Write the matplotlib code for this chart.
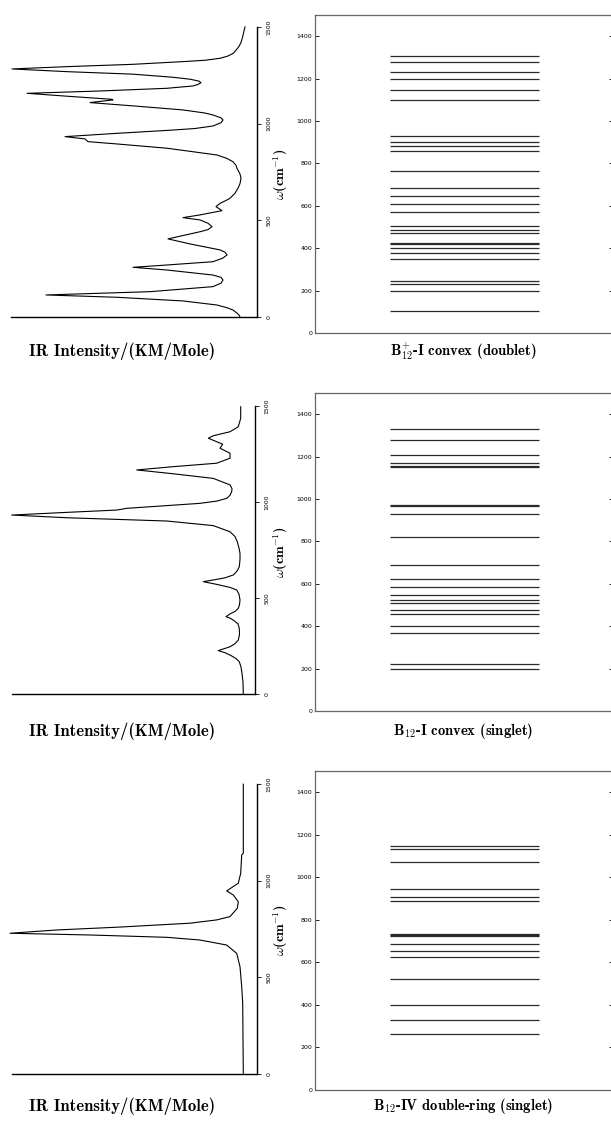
import matplotlib
matplotlib.use("Agg")
import matplotlib.pyplot as plt

plt.rcParams['mathtext.fontset'] = 'cm'

# IR spectra (frequency in cm^-1, intensity in arbitrary units)
freq1 = [1500, 1480, 1450, 1420, 1400, 1380, 1364, 1350, 1338, 1328, 1321, 1307, 1295,
         1283, 1269, 1256, 1240, 1230, 1220, 1212, 1203, 1195, 1183, 1169, 1157, 1142,
         1126, 1123, 1109, 1092, 1071, 1055, 1045, 1030, 1019, 1005, 988, 975, 967, 950,
         933, 921, 907, 895, 873, 838, 820, 803, 785, 769, 740, 718, 690, 666, 640, 614,
         600, 588, 571, 550, 528, 514, 502, 485, 467, 452, 441, 404, 378, 347, 335, 321,
         305, 286, 269, 257, 243, 217, 205, 191, 175, 157, 131, 114, 102, 83, 62, 48, 36,
         20, 10, 0]
ir1 = [0, 1, 2.3, 4, 6, 9, 11.7, 17, 25, 40, 61.7, 112, 178,
       233, 178, 112, 72, 55, 46, 44, 47, 52, 78, 145, 218, 178,
       133, 132, 155, 112, 62, 40, 32, 24, 22, 24, 32, 50, 72, 128,
       180, 160, 157, 128, 78, 28, 18, 12, 9, 8, 5, 4, 5, 7, 10, 15,
       20, 25, 29, 23, 45, 62, 45, 37, 33, 37, 45, 77, 55, 25, 20, 18,
       22, 32, 78, 112, 78, 32, 24, 22, 24, 32, 95, 199, 128, 62, 28, 18, 12,
       8, 6, 5]

freq2 = [1496, 1436, 1392, 1366, 1345, 1332, 1314, 1301, 1280, 1254, 1228, 1202, 1184,
         1167, 1147, 1123, 1089, 1070, 1054, 1035, 1019, 1005, 993, 967, 958, 946, 932,
         918, 901, 877, 845, 820, 793, 760, 733, 700, 663, 640, 620, 605, 597, 585, 571,
         555, 542, 520, 490, 465, 446, 430, 417, 403, 395, 385, 365, 342, 310, 281, 262,
         246, 226, 215, 203, 185, 168, 140, 108, 60, 7, 0]
ir2 = [4.3, 4.3, 6.7, 15, 31.7, 36.7, 28.3, 22.3, 25, 15, 15, 28.3, 71.7,
       108.3, 71.7, 31.7, 15, 13, 13.3, 15, 18.3, 28, 45, 118.3, 128.3, 178.3, 233.3,
       178.3, 78.3, 31.7, 15, 10, 7.7, 6, 5, 5, 5.7, 8, 11.7, 20, 28.3, 41.7, 28.3,
       15, 8.3, 6, 5, 5.5, 6.7, 10, 15, 19, 15, 11.7, 7, 5.7, 5.5, 6.7, 10,
       15, 26.7, 20, 15, 9, 5.7, 4, 3, 2, 1.7, 1.7]

freq3 = [1499, 1142, 1133, 1038, 987, 947, 926, 891, 857, 814, 797, 780, 760, 745, 728,
         719, 707, 693, 667, 624, 555, 452, 366, 4]
ir3 = [1.7, 1.7, 3.3, 4.3, 6.7, 18.3, 11.7, 6.7, 7.7, 15, 28.3, 55, 125, 188, 235,
       155, 78.3, 45, 18.3, 8.3, 5, 3.3, 2.3, 1.7]

# vibrational levels (cm^-1)
levels1 = [1306, 1279, 1233, 1197, 1148, 1101, 931, 901, 882, 860, 763, 684, 647,
           609, 573, 507, 484, 474, 426, 418, 400, 378, 348, 245, 230, 198, 104]
levels2 = [1328, 1276, 1208, 1168, 1158, 1150, 970, 965, 927, 819, 690, 621, 585,
           548, 525, 508, 476, 456, 402, 366, 220, 200]
levels3 = [1148, 1132, 1071, 944, 909, 887, 735, 728, 722, 687, 654, 627, 524,
           398, 329, 262]

titles = [r"B$_{12}^{+}$-I convex (doublet)",
          r"B$_{12}$-I convex (singlet)",
          r"B$_{12}$-IV double-ring (singlet)"]
ir_label = "IR Intensity/(KM/Mole)"

W, H = 611, 1121
fig = plt.figure(figsize=(W / 100, H / 100), dpi=100)


def box(l, r, t, b):
    return [l / W, 1 - b / H, (r - l) / W, (b - t) / H]


# pixel boxes: (left panel), (right panel), caption y
rows = [
    (box(11, 257, 27, 317), (234, -12), box(315, 613, 15, 333), 351),
    (box(12, 255, 406, 694), (233, -10), box(315, 613, 393, 711), 731),
    (box(12, 257, 784, 1074), (233, -12), box(315, 613, 771, 1090), 1106),
]
spectra = [(freq1, ir1), (freq2, ir2), (freq3, ir3)]
levels = [levels1, levels2, levels3]

for i, (lbox, lxlim, rbox, cap_y) in enumerate(rows):
    # IR spectrum drawn sideways
    ax = fig.add_axes(lbox)
    f, s = spectra[i]
    ax.plot(s, f, color='black', lw=0.8, clip_on=False)
    ax.set_xlim(*lxlim)
    ax.set_ylim(0, 1500)
    for side in ['top', 'left']:
        ax.spines[side].set_visible(False)
    ax.spines['bottom'].set_linewidth(1.0)
    ax.spines['right'].set_linewidth(1.0)
    ax.set_xticks([])
    ax.yaxis.tick_right()
    ax.set_yticks([0, 500, 1000, 1500])
    ax.tick_params(axis='y', direction='out', length=3, width=0.6, labelsize=4.5,
                   labelrotation=90, pad=4)
    for lab in ax.get_yticklabels():
        lab.set_va('center')

    # level diagram
    ax2 = fig.add_axes(rbox)
    ax2.hlines(levels[i], 0.25, 0.75, color='#2a2a2a', lw=0.9)
    ax2.set_xlim(0, 1)
    ax2.set_ylim(0, 1500)
    ax2.set_xticks([])
    ax2.set_yticks(range(0, 1401, 200))
    ax2.tick_params(axis='y', direction='in', length=3, width=0.6, labelsize=4.5,
                    right=True, pad=2)
    for sp in ax2.spines.values():
        sp.set_color('#666666')
        sp.set_linewidth(0.9)
    ax2.set_ylabel(r"$\omega$(cm$^{-1}$)", family='cmb10', fontsize=10)
    ax2.yaxis.set_label_coords(-0.085, 0.5)

    fig.text(122 / W, 1 - cap_y / H, ir_label, family='cmb10', fontsize=12,
             ha='center', va='center')
    fig.text(463 / W, 1 - cap_y / H, titles[i], family='cmb10', fontsize=10.5,
             ha='center', va='center')

fig.savefig("out.png", dpi=100)
